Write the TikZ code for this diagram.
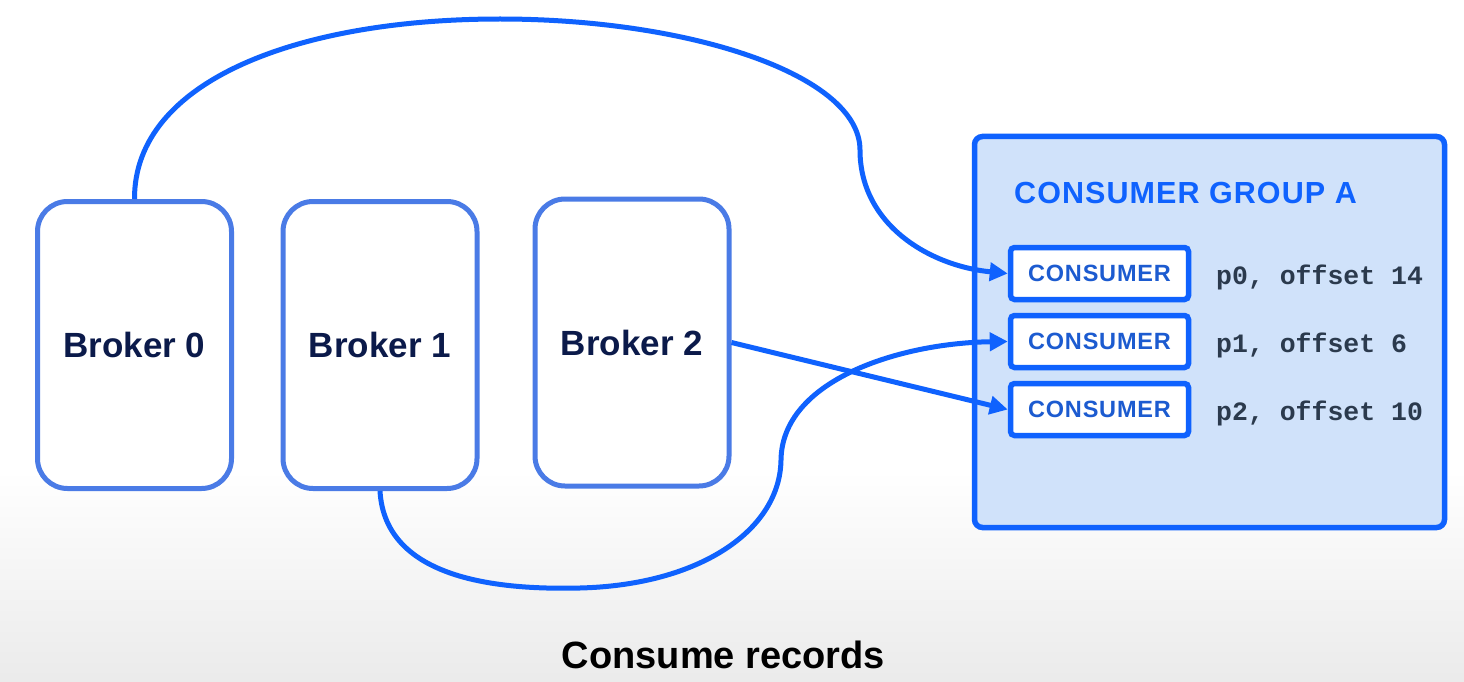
\documentclass[tikz,border=0pt]{standalone}
\usepackage{fontspec}
\setmainfont{Liberation Sans}
\newfontfamily\monof{Liberation Mono}
\newfontfamily\widesans[LetterSpace=3.5]{Liberation Sans}
\usetikzlibrary{arrows.meta}
\definecolor{ibmblue}{HTML}{0F62FE}
\definecolor{brokerblue}{HTML}{4A7BE6}
\definecolor{groupfill}{HTML}{D0E2FA}
\definecolor{navy}{HTML}{0B1A4A}
\definecolor{constext}{HTML}{1C5BD0}
\definecolor{labeltext}{HTML}{2B3A4D}
\tikzset{
  brokerbox/.style={draw=brokerblue, line width=5pt, fill=white, rounded corners=30pt,
    minimum width=194pt, minimum height=287pt, inner sep=0pt,
    font=\fontsize{35}{40}\selectfont\bfseries, text=navy},
  groupbox/.style={draw=ibmblue, line width=5.5pt, fill=groupfill, rounded corners=8pt,
    minimum width=470pt, minimum height=391pt, inner sep=0pt},
  consbox/.style={draw=ibmblue, line width=5.5pt, fill=white, rounded corners=4pt,
    minimum width=178pt, minimum height=52pt, inner sep=0pt,
    font=\widesans\fontsize{23.5}{26}\selectfont\bfseries, text=constext},
  offlabel/.style={anchor=west, inner sep=0pt, font=\monof\fontsize{26.5}{30}\selectfont\bfseries, text=labeltext},
  flow/.style={draw=ibmblue, line width=5pt, -{Triangle[length=18pt,width=18pt]}}
}
\begin{document}
\begin{tikzpicture}[x=1pt,y=-1pt]
\useasboundingbox (0,0) rectangle (1464,682);
\fill[white] (0,0) rectangle (1464,682);
\shade[top color=white, bottom color=black!8, draw=none] (0,470) rectangle (1464,682);

\node[brokerbox] (b0) at (134.5,345) {Broker 0};
\node[brokerbox] (b1) at (380,345) {Broker 1};
\node[brokerbox] (b2) at (632,342.5) {Broker 2};

\node[groupbox] (grp) at (1209.5,332) {};
\node[anchor=west, inner sep=0pt, font=\widesans\fontsize{30.5}{34}\selectfont\bfseries, text=ibmblue] (title) at (1014,193) {CONSUMER GROUP A};

\node[consbox] (c0) at (1099.5,273.5) {CONSUMER};
\node[consbox] (c1) at (1099.5,341.5) {CONSUMER};
\node[consbox] (c2) at (1099.5,409.5) {CONSUMER};

\node[offlabel] (l0) at (1216,277) {p0, offset 14};
\node[offlabel] (l1) at (1216,345) {p1, offset 6};
\node[offlabel] (l2) at (1216,413) {p2, offset 10};

\draw[flow] (b0.north) .. controls (134,80) and (300,19) .. (500,19)
  .. controls (690,19) and (860,75) .. (860,150)
  .. controls (860,225) and (930,266) .. (c0.west);
\draw[flow] (b1.south) .. controls (385,580) and (500,590) .. (580,588)
  .. controls (700,585) and (780,530) .. (781,460)
  .. controls (782,380) and (900,343) .. (c1.west);
\draw[flow] (b2.east) -- (c2.west);

\node[font=\fontsize{38}{42}\selectfont\bfseries, text=black] (cap) at (723.5,655) {Consume records};
\end{tikzpicture}
\end{document}
